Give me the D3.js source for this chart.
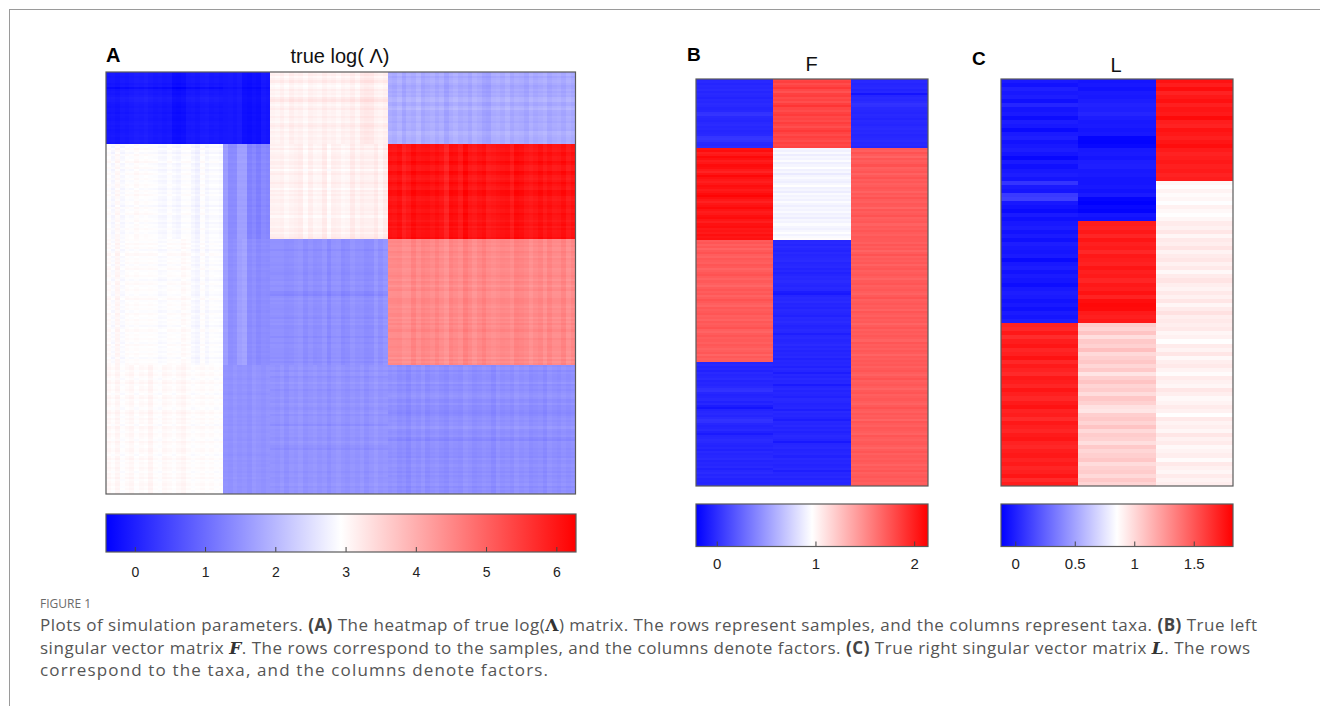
<!DOCTYPE html>
<html><head><meta charset="utf-8">
<script src="https://cdn.jsdelivr.net/npm/d3@7"></script>
<style>body{margin:0;background:#fff}svg{display:block}</style>
</head><body>
<svg id="chart" width="1320" height="706"></svg>
<script>
// ---------------- DATA (values in hundredths) ----------------
// F: 200 samples x 3 factors (sample groups 34 / 45 / 60 / 61)
const F1_raw = [
-3,-2,-4,-2,-3,-1,-4,-2,-3,-5,-2,-3,-1,-2,-4,-3,2,3,-2,-3,-4,-2,-1,-3,-2,-4,-3,-2,3,4,2,-2,-3,-1,
205,208,200,203,210,206,201,204,209,207,202,198,205,211,206,203,200,204,208,206,202,205,209,212,207,203,199,204,206,210,205,201,203,207,209,204,200,206,208,203,205,202,207,204,206,
172,175,170,174,168,173,176,171,169,174,172,170,175,173,168,171,174,176,172,169,173,170,167,172,175,171,174,169,172,176,173,170,168,174,171,173,175,170,172,169,174,171,173,176,170,168,172,175,171,173,170,174,172,169,171,174,168,173,170,172,
-4,-2,-5,-3,-6,-2,-4,-3,-1,-5,-3,-4,-2,1,2,-3,-5,-4,-2,-6,-3,-8,-12,-5,-3,-2,-4,-1,2,1,-3,-5,-4,-2,-6,-9,-4,-3,-1,-2,-4,-5,-3,-6,-2,-4,-3,-1,-5,-3,-4,-2,-6,-3,-1,-4,-2,-5,-3,-4,-2];
const F2_raw = [
182,185,179,183,188,181,176,184,186,180,183,178,185,190,182,179,184,187,181,183,180,186,182,178,184,188,183,180,185,182,179,184,181,183,
92,90,94,88,93,91,95,89,92,96,90,93,87,92,94,91,89,93,97,90,92,88,94,91,93,90,95,92,89,93,91,94,90,92,88,93,91,95,92,90,93,96,91,94,98,
-3,-2,-4,-1,-3,-5,-2,-4,-3,-2,-1,-4,-3,-2,-5,-3,-6,-4,-2,-3,-1,-3,-4,-2,-3,-8,-10,-4,-2,-3,-1,-4,-3,-5,-2,-3,-4,-6,-2,-3,-1,-3,-5,-4,-2,-3,-7,-3,-2,-4,-3,-1,-4,-2,-5,-3,-4,-2,-6,-3,
-4,-3,-6,-2,-4,-8,-3,-5,-2,-4,-3,-9,-4,-2,-5,-3,-4,-6,-2,-3,-5,-4,-3,-7,-2,-4,-3,-5,-8,-3,-4,-2,-5,-3,-6,-4,-2,-3,-5,-10,-4,-3,-2,-5,-4,-3,-6,-2,-4,-3,-5,-4,-2,-7,-3,-4,-2,-5,-3,-4,-3];
const F3_raw = [
-3,-2,-4,-3,-2,-5,-3,-12,-4,-2,-3,-1,2,1,-2,-3,-4,-2,-3,-5,-2,-3,-4,-2,-1,-3,-2,-4,-3,-2,-1,-3,-2,-4,
174,170,176,172,168,175,171,173,177,170,172,175,169,173,176,171,174,170,172,175,173,169,174,171,176,172,170,174,173,168,175,171,173,176,170,172,174,169,173,171,175,172,170,174,173,
173,170,175,171,174,168,172,176,170,173,171,174,169,173,175,170,172,174,171,168,173,175,170,172,174,171,169,173,176,170,172,174,171,173,169,175,172,170,174,171,173,168,172,175,170,173,171,174,172,169,175,171,173,170,174,172,168,173,171,174,
172,174,170,173,175,171,169,173,176,170,172,174,171,168,173,175,170,172,174,171,169,173,176,172,170,174,171,173,168,175,172,170,174,173,171,169,175,172,170,173,174,171,168,172,175,170,173,171,174,172,169,173,171,175,170,172,174,171,173,170,172];
// L: 100 taxa x 3 factors (taxa groups 25 / 10 / 25 / 40)
const L1_raw = [
-2,-5,0,-3,-1,-6,2,-4,-2,-7,-1,-3,-8,-2,0,-5,-3,-1,-4,-9,-2,-6,-3,-1,-4,
8,-2,-4,10,12,-3,-5,-8,-2,-6,
-3,-1,-5,-2,-6,-1,-3,-4,-2,-8,-3,-1,-5,-2,-4,-7,-3,-1,-2,-5,-3,-6,-2,-4,-1,
170,168,174,166,172,175,169,171,176,168,173,170,167,174,172,169,175,171,168,173,176,170,172,167,174,171,169,173,175,170,168,172,174,170,173,169,171,175,167,172];
const L2_raw = [
-4,-3,-5,-2,-3,-1,1,0,2,-1,-3,-2,-4,-3,-10,-11,-9,-3,-2,-4,-1,0,-3,-2,-4,
-4,-3,-5,-2,-10,-12,-9,-11,-4,-6,
172,170,174,169,175,171,173,168,174,172,170,175,171,173,169,174,172,176,170,178,180,179,173,171,174,
105,102,108,98,106,103,110,100,104,107,101,106,96,104,108,102,105,99,107,103,97,95,104,106,102,108,100,105,103,98,106,101,104,107,99,103,105,100,106,102];
const L3_raw = [
176,172,178,170,174,177,171,175,173,179,172,170,176,174,171,175,178,173,170,172,174,171,173,170,172,
88,86,90,87,89,85,91,88,86,89,
93,91,95,89,94,92,96,90,93,95,91,94,88,93,96,92,90,94,91,95,89,93,97,92,94,
92,94,89,91,86,93,90,95,88,92,94,90,87,93,91,89,95,92,88,90,93,91,86,94,90,92,89,95,91,93,88,90,92,87,94,91,89,93,90,92];

// colour limits and colourbar ticks
const climA = [-0.41, 6.28], ticksA = [0,1,2,3,4,5,6];
const climF = [-0.21, 2.14], ticksF = [0,1,2];
const climL = [-0.12, 1.83], ticksL = [0,0.5,1,1.5];

// ---------------- BUILD ----------------
const toVal = a => a.map(v => v / 100);
const Fcols = [toVal(F1_raw), toVal(F2_raw), toVal(F3_raw)];
const Lcols = [toVal(L1_raw), toVal(L2_raw), toVal(L3_raw)];
const nS = Fcols[0].length, nT = Lcols[0].length;

// true log(Lambda) = F L^T
const cellsA = [];
for (let i = 0; i < nS; i++) for (let j = 0; j < nT; j++) {
  let v = 0; for (let k = 0; k < 3; k++) v += Fcols[k][i] * Lcols[k][j];
  cellsA.push({r: i, c: j, v});
}
const cellsF = [], cellsL = [];
for (let k = 0; k < 3; k++) {
  for (let i = 0; i < nS; i++) cellsF.push({r: i, c: k, v: Fcols[k][i]});
  for (let j = 0; j < nT; j++) cellsL.push({r: j, c: k, v: Lcols[k][j]});
}

const svg = d3.select('#chart');
const font = "'Liberation Sans', Arial, Helvetica, sans-serif";
const frameCol = '#5a5a5a';

function colorScale(clim) {
  return d3.scaleLinear().domain([clim[0], (clim[0] + clim[1]) / 2, clim[1]])
    .range(['#0000ff', '#ffffff', '#ff0000']).interpolate(d3.interpolateRgb).clamp(true);
}

function heatmap(cells, nRows, nCols, x0, x1, y0, y1, clim) {
  const x = d3.scaleBand().domain(d3.range(nCols)).range([x0, x1]);
  const y = d3.scaleBand().domain(d3.range(nRows)).range([y0, y1]);
  const col = colorScale(clim);
  const g = svg.append('g').attr('shape-rendering', 'crispEdges');
  g.selectAll('rect').data(cells).join('rect')
    .attr('x', d => x(d.c)).attr('y', d => y(d.r))
    .attr('width', x.bandwidth() + 0.3).attr('height', y.bandwidth() + 0.3)
    .attr('fill', d => col(d.v));
  svg.append('rect').attr('x', x0).attr('y', y0).attr('width', x1 - x0).attr('height', y1 - y0)
    .attr('fill', 'none').attr('stroke', frameCol).attr('stroke-width', 1.2);
}

let gradId = 0;
function colorbar(x0, x1, y0, y1, clim, ticks, fs, pad) {
  const id = 'grad' + (gradId++);
  const lg = svg.append('defs').append('linearGradient').attr('id', id)
    .attr('x1', '0%').attr('x2', '100%').attr('y1', '0%').attr('y2', '0%');
  lg.append('stop').attr('offset', '0%').attr('stop-color', '#0000ff');
  lg.append('stop').attr('offset', '50%').attr('stop-color', '#ffffff');
  lg.append('stop').attr('offset', '100%').attr('stop-color', '#ff0000');
  svg.append('rect').attr('x', x0).attr('y', y0).attr('width', x1 - x0).attr('height', y1 - y0)
    .attr('fill', `url(#${id})`);
  const s = d3.scaleLinear().domain(clim).range([x0, x1]);
  const ax = svg.append('g').attr('transform', `translate(0,${y1})`)
    .call(d3.axisBottom(s).tickValues(ticks).tickFormat(d => String(d))
      .tickSizeInner(-5).tickSizeOuter(0).tickPadding(pad));
  ax.select('.domain').remove();
  ax.selectAll('.tick line').attr('stroke', '#444').attr('stroke-width', 1);
  ax.selectAll('.tick text').attr('fill', '#222').style('font-family', font).style('font-size', fs + 'px');
  svg.append('rect').attr('x', x0).attr('y', y0).attr('width', x1 - x0).attr('height', y1 - y0)
    .attr('fill', 'none').attr('stroke', frameCol).attr('stroke-width', 1.2);
}

// outer frame
svg.append('line').attr('x1', 9).attr('x2', 1320).attr('y1', 9.5).attr('y2', 9.5).attr('stroke', '#9a9a9a').attr('stroke-width', 1);
svg.append('line').attr('x1', 9.5).attr('x2', 9.5).attr('y1', 9).attr('y2', 706).attr('stroke', '#9a9a9a').attr('stroke-width', 1);

// Panel A
heatmap(cellsA, nS, nT, 106, 575.5, 72, 494, climA);
colorbar(106, 576, 514, 552, climA, ticksA, 14, 15);
svg.append('text').attr('x', 106).attr('y', 62).text('A')
  .style('font-family', font).style('font-weight', 'bold').style('font-size', '20px');
svg.append('text').attr('x', 340).attr('y', 62.5).attr('text-anchor', 'middle').text('true log( \u039B)')
  .style('font-family', font).style('font-size', '20px').attr('fill', '#111');

// Panel B
heatmap(cellsF, nS, 3, 696, 928, 79, 486, climF);
colorbar(696, 928, 504, 546.5, climF, ticksF, 15, 12);
svg.append('text').attr('x', 687).attr('y', 61).text('B')
  .style('font-family', font).style('font-weight', 'bold').style('font-size', '19px');
svg.append('text').attr('x', 811.5).attr('y', 71).attr('text-anchor', 'middle').text('F')
  .style('font-family', font).style('font-size', '20px').attr('fill', '#111');

// Panel C
heatmap(cellsL, nT, 3, 1001, 1233, 79, 486, climL);
colorbar(1001, 1233, 504, 546.5, climL, ticksL, 15, 12);
svg.append('text').attr('x', 972).attr('y', 64.5).text('C')
  .style('font-family', font).style('font-weight', 'bold').style('font-size', '19px');
svg.append('text').attr('x', 1116).attr('y', 72).attr('text-anchor', 'middle').text('L')
  .style('font-family', font).style('font-size', '20px').attr('fill', '#111');

// Caption
const capFont = "'Open Sans', 'Noto Sans', sans-serif";
const capCol = '#555';
svg.append('text').attr('x', 40).attr('y', 607.5).text('FIGURE 1')
  .style('font-family', capFont).style('font-size', '12px').attr('fill', '#6a6a6a');

const capLines = [
  [['Plots of simulation parameters. ', ''], ['(A)', 'b'], [' The heatmap of true log(', ''], ['\u039B', 'bs'], [') matrix. The rows represent samples, and the columns represent taxa. ', ''], ['(B)', 'b'], [' True left', '']],
  [['singular vector matrix ', ''], ['F', 'bis'], ['. The rows correspond to the samples, and the columns denote factors. ', ''], ['(C)', 'b'], [' True right singular vector matrix ', ''], ['L', 'bis'], ['. The rows', '']],
  [['correspond to the taxa, and the columns denote factors.', '']]
];
const capY = [631, 653.5, 676];
const capW = [1217, 1210, 508];
capLines.forEach((line, li) => {
  const t = svg.append('text').attr('x', 40).attr('y', capY[li])
    .attr('textLength', capW[li]).attr('lengthAdjust', 'spacing')
    .style('font-family', capFont).style('font-size', '17px').attr('fill', capCol);
  line.forEach(([txt, st]) => {
    const ts = t.append('tspan').text(txt);
    if (st.includes('b')) ts.style('font-weight', '700').attr('fill', '#444');
    if (st.includes('i')) ts.style('font-style', 'italic');
    if (st.includes('s')) ts.style('font-family', "'DejaVu Serif', 'Liberation Serif', serif").attr('fill', '#333');
  });
});
</script>
</body></html>
